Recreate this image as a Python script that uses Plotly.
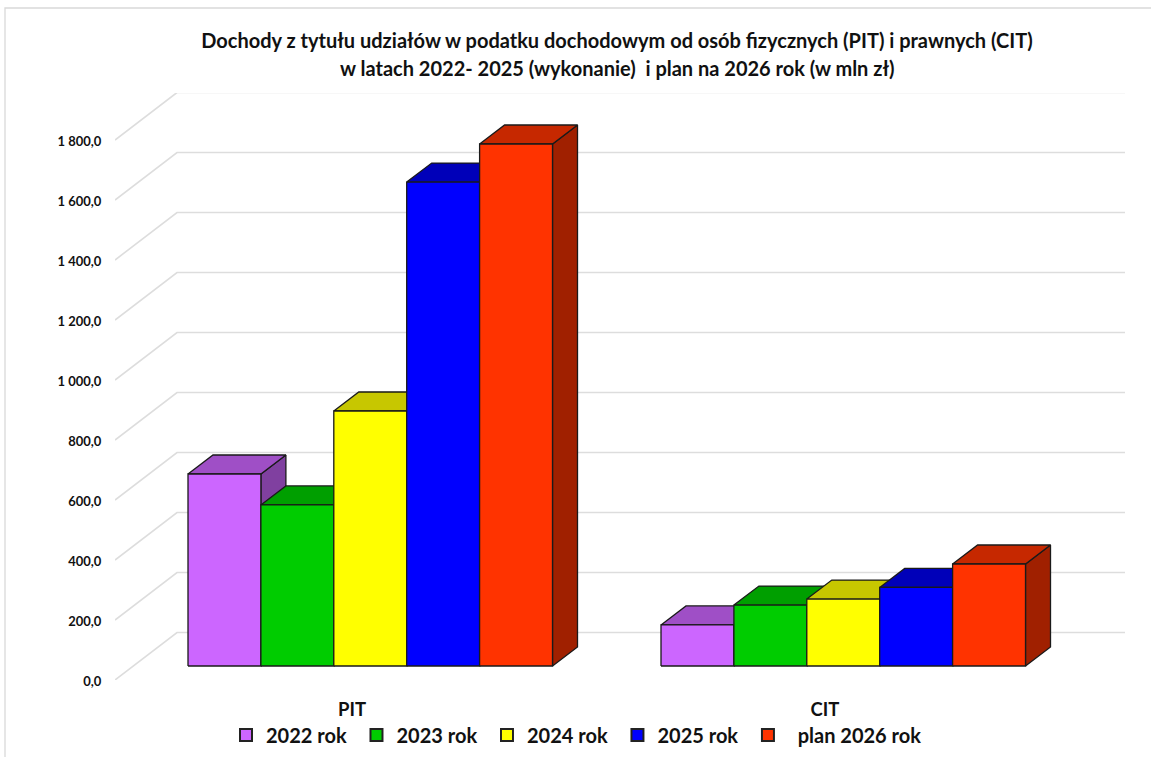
import plotly.graph_objects as go

categories = ["PIT", "CIT"]
series_names = ["2022 rok\u00a0", "2023 rok\u00a0", "2024 rok\u00a0", "2025 rok\u00a0", "\u00a0\u00a0plan 2026 rok"]
pit_values = [640, 537, 850, 1613, 1740]
cit_values = [137, 203, 223, 262, 340]
colors = ["#CC66FF", "#00CC00", "#FFFF00", "#0000FF", "#FF3300"]
tops = ["#9F4FC6", "#009F00", "#C7C700", "#0000B9", "#C62800"]
sides = ["#8040A0", "#008000", "#A0A000", "#000095", "#A02000"]
y_ticks = [0, 200, 400, 600, 800, 1000, 1200, 1400, 1600, 1800]
y_labels = ["0,0", "200,0", "400,0", "600,0", "800,0", "1 000,0", "1 200,0", "1 400,0", "1 600,0", "1 800,0"]

W, H = 1151, 757
L, R, T, B = 115, 1125, 93, 680
PX_X = 473.0                         # px per category
PX_Y = 0.3                           # px per value unit
X_TICK0 = 352.0                      # px of first category tick
x_min = (L - X_TICK0) / PX_X
x_max = (R - X_TICK0) / PX_X
y_max = (B - T) / PX_Y

WALL_DX, WALL_DY = 62 / PX_X, 47.5 / PX_Y
BAR_W = 72.9 / PX_X
BAR_DX, BAR_DY = 25 / PX_X, 19 / PX_Y
BASE = 14 / PX_Y
GROUP_LEFT = (188 - X_TICK0) / PX_X

FONT = "Lato"
fig = go.Figure()

gx, gy = [], []
for t in y_ticks:
    gx += [x_min, x_min + WALL_DX, x_max, None]
    gy += [t, t + WALL_DY, t + WALL_DY, None]
fig.add_trace(go.Scatter(x=gx, y=gy, mode="lines", line=dict(color="#DDDDDD", width=1.6),
                         showlegend=False, hoverinfo="skip", cliponaxis=False))

def poly(xs, ys, fill, name):
    fig.add_trace(go.Scatter(x=xs + xs[:1], y=ys + ys[:1], mode="lines", fill="toself",
                             fillcolor=fill, line=dict(color="#1a1a1a", width=1.3),
                             showlegend=False, hoverinfo="skip", name=name, cliponaxis=False))

for g, vals in enumerate([pit_values, cit_values]):
    for i, v in enumerate(vals):
        x0 = g + GROUP_LEFT + i * BAR_W
        x1 = x0 + BAR_W
        y0, y1 = BASE, BASE + v
        n = series_names[i].strip()
        poly([x1, x1 + BAR_DX, x1 + BAR_DX, x1], [y0, y0 + BAR_DY, y1 + BAR_DY, y1], sides[i], n)
        poly([x0, x0 + BAR_DX, x1 + BAR_DX, x1], [y1, y1 + BAR_DY, y1 + BAR_DY, y1], tops[i], n)
        poly([x0, x1, x1, x0], [y0, y0, y1, y1], colors[i], n)

for n, c in zip(series_names, colors):
    fig.add_trace(go.Scatter(x=[None], y=[None], mode="markers", name=n,
                             marker=dict(symbol="square", size=12, color=c,
                                         line=dict(color="#222", width=1))))

fig.update_layout(
    width=W, height=H, autosize=False,
    paper_bgcolor="white", plot_bgcolor="white",
    margin=dict(l=L, r=W - R, t=T, b=H - B, autoexpand=False),
    font=dict(family=FONT, color="#111"),
    title=dict(text="<b>Dochody z tytułu udziałów w podatku dochodowym od osób fizycznych (PIT) i prawnych (CIT)</b>",
               x=617 / W, xanchor="center", xref="container",
               y=1 - 41 / H, yanchor="middle", yref="container",
               font=dict(family=FONT, size=20, color="#111")),
    xaxis=dict(range=[x_min, x_max], tickmode="array", tickvals=[0, 1], ticktext=[f"<b>{c}</b>" for c in categories],
               showgrid=False, zeroline=False, showline=False, ticks="outside", ticklen=13,
               automargin=False,
               tickcolor="rgba(0,0,0,0)", tickfont=dict(family=FONT, size=18.5, color="#111")),
    yaxis=dict(range=[0, y_max], tickmode="array", tickvals=y_ticks, ticktext=[f"<b>{s}</b>" for s in y_labels],
               showgrid=False, zeroline=False, showline=False, ticks="outside", ticklen=10,
               automargin=False, ticklabelshift=1,
               tickcolor="rgba(0,0,0,0)", tickfont=dict(family=FONT, size=13, color="#111")),
    legend=dict(orientation="h", x=226 / W, xref="container", xanchor="left",
                y=1 - 735 / H, yref="container", yanchor="middle",
                itemsizing="constant",
                font=dict(family=FONT, size=20, color="#111", weight="bold"),
                bgcolor="rgba(0,0,0,0)"),
    annotations=[dict(text="<b>w latach 2022- 2025 (wykonanie)  i plan na 2026 rok (w mln zł)</b>",
                      xref="paper", yref="paper", x=(617 - L) / (R - L), y=(B - 68) / (B - T),
                      xanchor="center", yanchor="middle", showarrow=False,
                      font=dict(family=FONT, size=20, color="#111"))],
    shapes=[dict(type="rect", xref="paper", yref="paper",
                 x0=(5 - L) / (R - L), x1=(W + 30 - L) / (R - L),
                 y0=(B - H - 30) / (B - T), y1=(B - 8) / (B - T),
                 line=dict(color="#D9D9D9", width=1.3), fillcolor="rgba(0,0,0,0)", layer="below")],
)
fig.write_html("out.html", config=dict(displayModeBar=False),
               post_script="document.body.style.margin='0';document.documentElement.style.overflow='hidden';")
